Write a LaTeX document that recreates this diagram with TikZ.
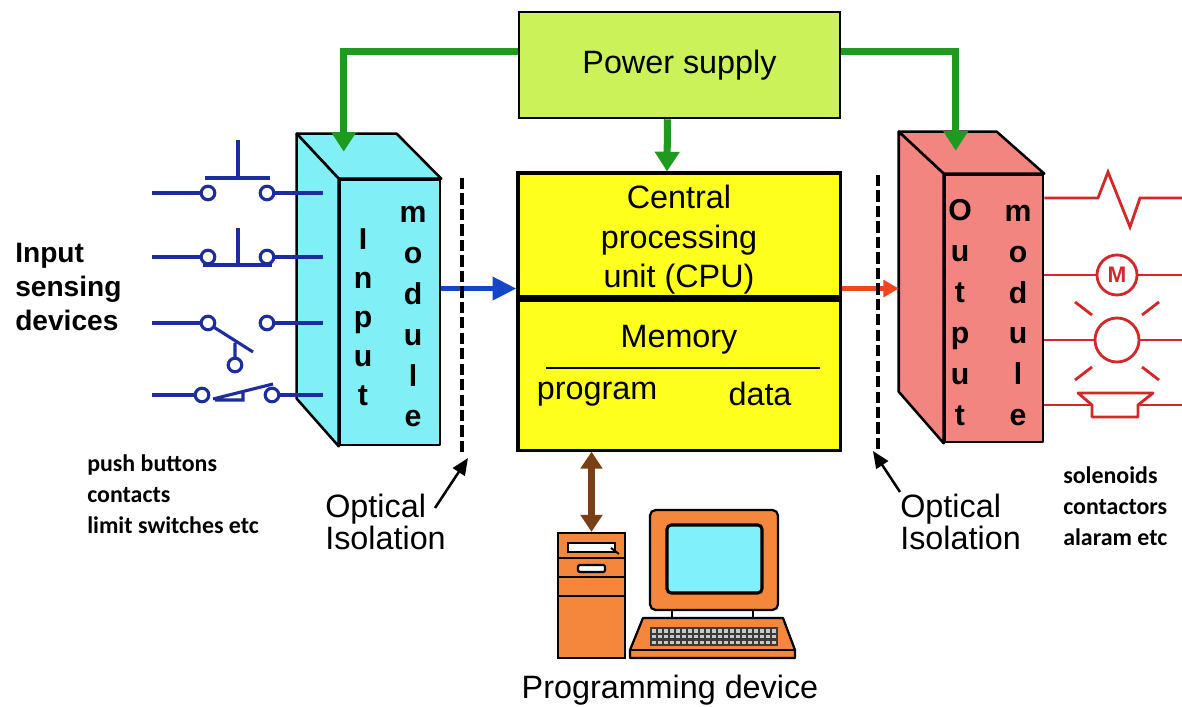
\documentclass[tikz,border=0pt]{standalone}
\usepackage{fontspec}
\setmainfont{Liberation Sans}
\newfontfamily\notefont{Carlito}
\usetikzlibrary{arrows.meta,positioning,calc}
\definecolor{psfill}{HTML}{CCF25A}
\definecolor{cpufill}{HTML}{FFFF1E}
\definecolor{inmod}{HTML}{80F0F6}
\definecolor{outmod}{HTML}{F28580}
\definecolor{pwr}{HTML}{1E9B1E}
\definecolor{swblue}{HTML}{1E2D9E}
\definecolor{busblue}{HTML}{1446C8}
\definecolor{busred}{HTML}{F0461E}
\definecolor{loadred}{HTML}{D42828}
\definecolor{pcorange}{HTML}{F5873C}
\definecolor{screen}{HTML}{80F0FA}
\definecolor{link}{HTML}{7A4015}
\definecolor{keydark}{HTML}{3A3A3A}
\definecolor{keylite}{HTML}{C8C8C8}

\begin{document}
\begin{tikzpicture}[x=0.025cm,y=-0.025cm,
  font=\fontsize{23}{28}\selectfont,
  box/.style={draw=black,line width=1.8pt,inner sep=0pt},
  face/.style={draw=black,line width=1.8pt,line join=round},
  modletter/.style={anchor=base,inner sep=0pt,font=\fontsize{21.5}{21.5}\selectfont\bfseries},
  feed/.style={draw=pwr,line width=5pt,-{Triangle[width=17pt,length=14pt]}},
  iso/.style={draw=black,line width=2.8pt,dash pattern=on 8pt off 3pt},
  pointer/.style={draw=black,line width=1.8pt,-{Triangle[width=10pt,length=12pt]}},
  sw/.style={draw=swblue,line width=2.2pt},
  load/.style={draw=loadred,line width=2pt},
  pc/.style={draw=black,line width=1.6pt,fill=pcorange,inner sep=0pt},
  note/.style={align=left,anchor=west,inner sep=0pt,font=\notefont\bfseries\fontsize{17}{22}\selectfont}
]
\useasboundingbox[fill=white] (0,0) rectangle (1182,707);

% power supply and CPU
\node[box,fill=psfill,minimum width=8.03cm,minimum height=2.65cm] (ps) at (679.5,65) {Power supply};
\node[box,line width=2.2pt,fill=cpufill,minimum width=8.05cm,minimum height=3.1cm] (cpu) at (679,235) {};
\node[box,line width=2.2pt,fill=cpufill,minimum width=8.05cm,minimum height=3.75cm,below=0pt of cpu] (mem) {};
\node[align=center,inner sep=0pt] (cputxt) at (679,240) {Central\\processing\\unit (CPU)};
\node[inner sep=0pt] (memtxt) at (679,340) {Memory};
\draw[line width=1.8pt] ($(mem.west)+(30,-7)$) -- ($(mem.east)+(-22,-7)$);
\node[inner sep=0pt] (prog) at (597,394) {program};
\node[inner sep=0pt] (data) at (760,394) {data};

% input module
\node[face,fill=inmod,minimum width=2.5cm,minimum height=6.625cm] (inf) at (390,312.5) {};
\draw[face,fill=inmod] (inf.north west) -- ++(-42,-45) -- ++(100,0) -- (inf.north east) -- cycle;
\draw[face,fill=inmod] (inf.north west) -- ++(-42,-45) -- ++(0,265) -- (inf.south west) -- cycle;
\foreach \c [count=\i from 0] in {I,n,p,u,t}
  \node[modletter] (inl\i) at (363,250+39*\i) {\c};
\foreach \c [count=\i from 0] in {m,o,d,u,l,e}
  \node[modletter] (inm\i) at (413,223+40.8*\i) {\c};
\coordinate (inpin) at ($(inf.north west)+(5,-27)$);

% output module
\node[face,fill=outmod,minimum width=2.45cm,minimum height=6.675cm] (outf) at (994,308.5) {};
\draw[face,fill=outmod] (outf.north west) -- ++(-45,-42) -- ++(98,0) -- (outf.north east) -- cycle;
\draw[face,fill=outmod] (outf.north west) -- ++(-45,-42) -- ++(0,260) -- (outf.south west) -- cycle;
\coordinate (outback) at ($(outf.north west)+(-45,-42)$);
\foreach \c [count=\i from 0] in {O,u,t,p,u,t}
  \node[modletter] (outl\i) at (960,221+41*\i) {\c};
\foreach \c [count=\i from 0] in {m,o,d,u,l,e}
  \node[modletter] (outm\i) at (1018,222+40.6*\i) {\c};
\coordinate (outpin) at ($(outf.north west)+(12,-23)$);

% power feeds
\draw[feed] ([yshift=0.33cm]ps.west) -| (inpin);
\draw[feed] ([yshift=0.33cm]ps.east) -| (outpin);
\draw[feed] ([xshift=-0.3cm]ps.south) -- ([xshift=-0.3cm]cpu.north);

% data paths
\coordinate (cpuin) at ([yshift=0.25cm]cpu.south west);
\coordinate (cpuout) at ([yshift=0.25cm]cpu.south east);
\draw[busblue,line width=3.8pt,-{Triangle[width=16pt,length=17pt]}] (inf.east |- cpuin) -- (cpuin);
\draw[busred,line width=3.2pt,-{Triangle[width=12pt,length=11pt]}] (cpuout) -- (outback |- cpuout);

% optical isolation
\coordinate (isoLtop) at (462,178);
\coordinate (isoLbot) at (462,452);
\coordinate (isoRtop) at (878,175);
\coordinate (isoRbot) at (878,450);
\draw[iso] (isoLtop) -- (isoLbot);
\draw[iso] (isoRtop) -- (isoRbot);
\node[align=left,anchor=west,inner sep=0pt,font=\fontsize{23}{23}\selectfont] (optL) at (325,522) {Optical\\Isolation};
\node[align=left,anchor=west,inner sep=0pt,font=\fontsize{23}{23}\selectfont] (optR) at (900,522) {Optical\\Isolation};
\coordinate (optLtail) at (435,508);
\coordinate (optLtip) at (468,458);
\coordinate (optRtail) at (900,492);
\coordinate (optRtip) at (873,451);
\draw[pointer] (optLtail) -- (optLtip);
\draw[pointer] (optRtail) -- (optRtip);

% input devices
\foreach \y/\a/\b in {193/208/267,257/208/267,323/208/267,395/202/272}{
  \draw[sw] (152,\y) -- (\a-7,\y) (\b+7,\y) -- (323,\y);
}
\draw[sw] (238,140) -- (238,178) (205,178) -- (270,178);
\draw[sw] (238,228) -- (238,265) (203,265) -- (272,265);
\draw[sw] (212,326) -- (253,352) (235,358) -- (235,343);
\draw[sw,fill=white] (235,365) circle[radius=0.17cm];
\draw[sw] (213,399) -- (273,384) (215,400) -- (243,400) -- (243,391);
\foreach \y/\a/\b in {193/208/267,257/208/267,323/208/267,395/202/272}{
  \draw[sw,fill=white] (\a,\y) circle[radius=0.17cm] (\b,\y) circle[radius=0.17cm];
}
\node[align=left,anchor=west,inner sep=0pt,font=\fontsize{20}{24}\selectfont\bfseries] (indev) at (15,287) {Input\\sensing\\devices};
\node[note] (innote) at (87,494) {push buttons\\contacts\\limit switches etc};

% output devices
\draw[load] (outf.east |- 0,198) -- (1098,198) -- (1108,172) -- (1130,227) -- (1140,198) -- (1182,198);
\node[circle,load,minimum size=1cm,inner sep=0pt,text=loadred,font=\fontsize{16}{16}\selectfont\bfseries] (motor) at (1117,275) {M};
\draw[load] (outf.east |- motor) -- (motor.west) (motor.east) -- (1182,275);
\node[circle,load,minimum size=1.1cm,inner sep=0pt] (lamp) at (1117,340) {};
\draw[load] (outf.east |- lamp) -- (lamp.west) (lamp.east) -- (1182,340);
\draw[load] (1075,302) -- (1092,315) (1159,302) -- (1142,315)
  (1075,380) -- (1092,367) (1159,380) -- (1142,367);
\draw[load,line join=round] (1078,393) -- (1153,393) -- (1138,405) -- (1138,417) -- (1092,417) -- (1092,405) -- cycle;
\draw[load] (outf.east |- 0,405) -- (1092,405) (1138,405) -- (1182,405);
\node[note] (outnote) at (1063,506) {solenoids\\contactors\\alaram etc};

% programming device
\node[pc,minimum width=1.675cm,minimum height=3.125cm] (tower) at (591.5,595.5) {};
\draw[pc,fill=white] (568,543) rectangle (615,552);
\draw[line width=1.4pt] (611,548) -- (619,554);
\draw[line width=1.4pt] (558,558) -- (625,558) (558,577) -- (625,577) (558,596) -- (625,596);
\draw[pc,fill=white,rounded corners=1pt] (578,565) rectangle (605,572);
\node[pc,rounded corners=4pt,minimum width=3.2cm,minimum height=2.5cm] (mon) at (714,560) {};
\draw[line width=2.2pt,fill=screen,rounded corners=3pt] (667,525) rectangle (762,593);
\draw[line width=1.4pt] (672,610) -- (672,618) (753,610) -- (753,618);
\draw[pc,line join=round] (643,618) -- (783,618) -- (795,650) -- (795,658) -- (630,658) -- (630,650) -- cycle;
\draw[line width=1.4pt] (630,650) -- (795,650);
\fill[keydark] (650,627) rectangle (778,646);
\foreach \kx in {0,...,20}
  \foreach \ky in {0,1,2}
    \fill[keylite] (652+6*\kx,629+5.8*\ky) rectangle ++(4,3.6);
\draw[link,line width=4.5pt,{Triangle[width=15pt,length=12pt]}-{Triangle[width=15pt,length=12pt]}] (tower.north |- mem.south) -- (tower.north);
\node[inner sep=0pt] (progdev) at (670,690) {Programming device};
\end{tikzpicture}
\end{document}
